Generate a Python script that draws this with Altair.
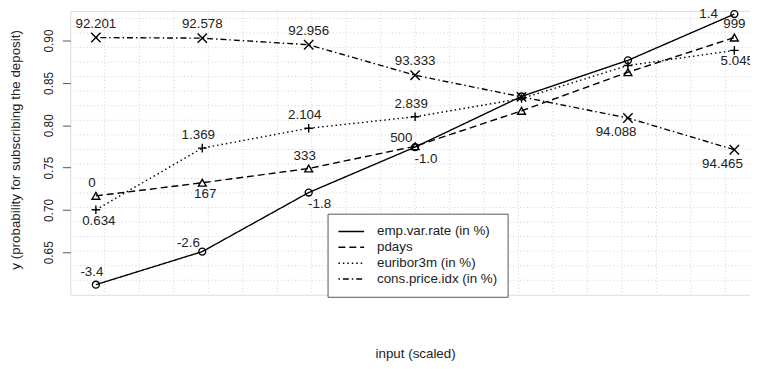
import altair as alt
import pandas as pd
import numpy as np

# ---------------- data ----------------
x_pos = [1, 2, 3, 4, 5, 6, 7]
series_names = ["emp.var.rate (in %)", "pdays", "euribor3m (in %)", "cons.price.idx (in %)"]
marker_names = ["circle", "triangle", "plus", "cross"]

emp_y = [0.6118, 0.6508, 0.7205, 0.7742, 0.8340, 0.8766, 0.9312]
pdays_y = [0.7166, 0.7321, 0.7489, 0.7752, 0.8170, 0.8626, 0.9035]
euribor_y = [0.7002, 0.7730, 0.7964, 0.8100, 0.8315, 0.8705, 0.8883]
cpi_y = [0.9035, 0.9028, 0.8950, 0.8590, 0.8335, 0.8085, 0.7711]

emp_lab = ["-3.4", "-2.6", "-1.8", "-1.0", "", "", "1.4"]
pdays_lab = ["0", "167", "333", "500", "", "", "999"]
euribor_lab = ["0.634", "1.369", "2.104", "2.839", "", "", "5.045"]
cpi_lab = ["92.201", "92.578", "92.956", "93.333", "", "94.088", "94.465"]

emp_pos = ["above", "upleft", "downright", "downright", "", "", "left"]
pdays_pos = ["above", "below", "above", "upleft", "", "", "abovec"]
euribor_pos = ["below", "above", "above", "above", "", "", "below"]
cpi_pos = ["abovec", "abovec", "abovec", "abovec", "", "downleft", "downleft"]

y_ticks = [0.65, 0.70, 0.75, 0.80, 0.85, 0.90]

# ---------------- styling ----------------
FONT = "Liberation Sans"
TXT = "#222222"
x_dom = [0.76, 7.24]
y_dom = [0.5998, 0.935]
y_full = [0.5998, 0.9432]
offsets = {
    "above": (-4, -13),
    "abovec": (0, -14),
    "upleft": (-14, -8.5),
    "below": (3, 11),
    "downright": (11, 12),
    "downleft": (-12, 14.5),
    "left": (-26, 0),
}

rows = []
for name, mk, ys, labs, poss in [
    (series_names[0], marker_names[0], emp_y, emp_lab, emp_pos),
    (series_names[1], marker_names[1], pdays_y, pdays_lab, pdays_pos),
    (series_names[2], marker_names[2], euribor_y, euribor_lab, euribor_pos),
    (series_names[3], marker_names[3], cpi_y, cpi_lab, cpi_pos),
]:
    for xv, yv, lb, ps in zip(x_pos, ys, labs, poss):
        rows.append({"x": xv, "y": yv, "series": name, "marker": mk, "label": lb, "pos": ps})
df = pd.DataFrame(rows)

grid_x = pd.DataFrame({"x": np.linspace(x_dom[0], x_dom[1], 21)[1:-1]})
grid_y = pd.DataFrame({"y": np.linspace(y_full[0], y_full[1], 21)[1:-1]})

x_scale = alt.Scale(domain=x_dom, nice=False, zero=False)
y_scale = alt.Scale(domain=y_dom, nice=False, zero=False)

x_axis = alt.Axis(title="input (scaled)", labels=False, ticks=False, domain=False, grid=False,
                  titleFont=FONT, titleFontSize=13.5, titleFontWeight="normal", titleColor=TXT,
                  titleX=348.5, titleY=59, titleAlign="center", titleBaseline="middle")
y_axis = alt.Axis(title="y (probability for subscribing the deposit)", values=y_ticks, format=".2f",
                  grid=False, domain=False, tickSize=8, tickColor="#555555", tickWidth=1,
                  labelAngle=270, labelAlign="center", labelBaseline="middle", labelPadding=14,
                  labelFont=FONT, labelFontSize=12, labelColor=TXT, labelOverlap=False, labelFlush=False,
                  titleFont=FONT, titleFontSize=13.5, titleFontWeight="normal", titleColor=TXT,
                  titleAngle=270, titleX=-55, titleY=140, titleAlign="center", titleBaseline="middle")

X = alt.X("x:Q", scale=x_scale, axis=x_axis)
Y = alt.Y("y:Q", scale=y_scale, axis=y_axis)

gx = alt.Chart(grid_x).mark_rule(stroke="#d0d0d0", strokeDash=[1, 2.5], strokeWidth=1).encode(x=X)
gy = alt.Chart(grid_y).mark_rule(stroke="#d0d0d0", strokeDash=[1, 2.5], strokeWidth=1).encode(y=Y)

lines = alt.Chart(df).mark_line(color="black", strokeWidth=1.4, strokeCap="butt").encode(
    x=X, y=Y,
    strokeDash=alt.StrokeDash(
        "series:N",
        scale=alt.Scale(domain=series_names, range=[[1, 0], [7, 4], [1.5, 3], [1.5, 3, 6, 3]]),
        legend=alt.Legend(orient="none", legendX=260, legendY=205, title=None, symbolType="stroke",
                          symbolSize=676, symbolStrokeWidth=1.5, symbolStrokeColor="black",
                          clipHeight=16, rowPadding=0, labelOffset=12, labelFontSize=13.5,
                          labelFont=FONT, labelColor=TXT, padding=10, strokeColor="#555555",
                          fillColor="white", labelLimit=0),
    ),
    detail="series:N",
)

points = alt.Chart(df).mark_point(filled=False, color="black", strokeWidth=1.4, opacity=1).encode(
    x=X, y=Y,
    shape=alt.Shape("marker:N", scale=alt.Scale(
        domain=marker_names,
        range=["circle", "triangle-up", "M-1,0L1,0M0,-1L0,1", "M-1,-1L1,1M-1,1L1,-1"]), legend=None),
    size=alt.Size("marker:N", scale=alt.Scale(domain=marker_names, range=[49, 90, 90, 36]), legend=None),
)

texts = []
for key, (ddx, ddy) in offsets.items():
    texts.append(
        alt.Chart(df).transform_filter(alt.datum.pos == key).mark_text(
            dx=ddx, dy=ddy, font=FONT, fontSize=13.5, color=TXT, align="center", baseline="middle"
        ).encode(x=X, y=Y, text="label:N")
    )

chart = alt.layer(gx, gy, lines, points, *texts).properties(
    width=697, height=287,
    autosize=alt.AutoSizeParams(type="none"),
    padding={"left": 63, "top": 1, "right": -10, "bottom": 65},
).resolve_legend(shape="independent", strokeDash="independent", size="independent"
).configure_view(stroke="#555555", strokeWidth=1).configure(background="white")

chart.save("out.html", embed_options={"renderer": "svg", "actions": False})
